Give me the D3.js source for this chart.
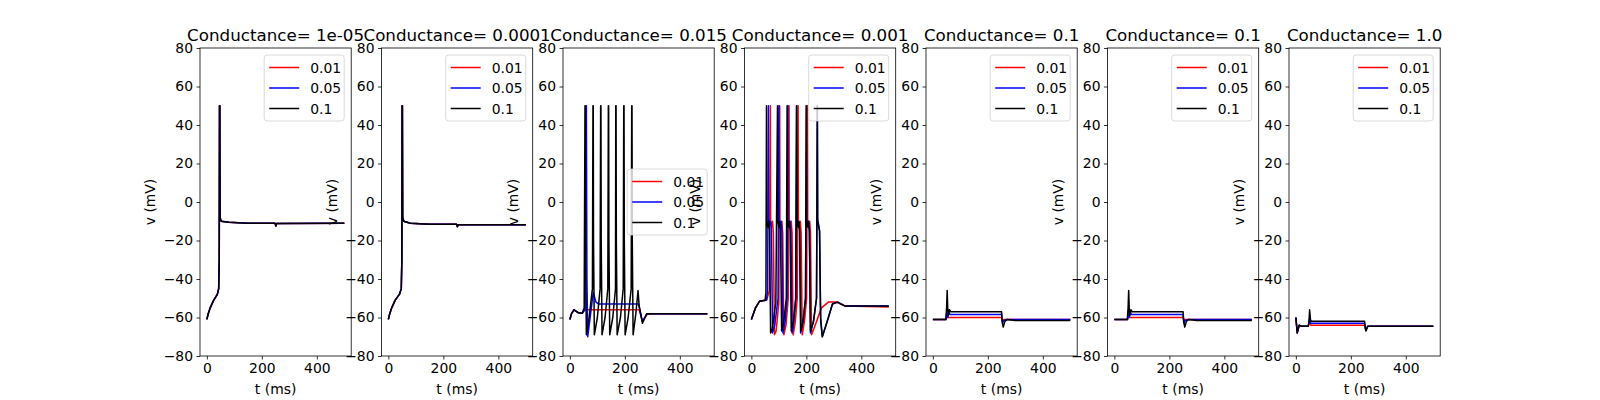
<!DOCTYPE html>
<html><head><meta charset="utf-8">
<script src="https://cdn.jsdelivr.net/npm/d3@7"></script>
<style>body{margin:0;background:#fff}svg text{font-family:"DejaVu Sans",sans-serif}</style>
</head><body><svg id="c" width="1600" height="400"></svg>
<script>
/* Conductance sweep: 7 panels, 3 traces each */
var titles = ['Conductance= 1e-05', 'Conductance= 0.0001', 'Conductance= 0.015', 'Conductance= 0.001',
              'Conductance= 0.1', 'Conductance= 0.1', 'Conductance= 1.0'];
var seriesLabels = ['0.01', '0.05', '0.1'];
var seriesColors = ['red', 'blue', 'black'];
var legendPos = ['ur', 'ur', 'cr', 'ur', 'ur', 'ur', 'ur'];
var xTicks = [0, 200, 400];
var yTicks = [-80, -60, -40, -20, 0, 20, 40, 60, 80];

var p1 = [[0,-61],[5,-58],[12,-55],[25,-51],[38,-48],[43,-45],[45,-30],[46,50],[47,50],[48,-8],[52,-10],[80,-10.5],[150,-11],[248,-11],[251,-12.5],[254,-11.2],[500,-11]];
var p2 = [[0,-61],[5,-58],[12,-55],[25,-51],[40,-48],[47,-45],[49,-30],[50,50],[51,50],[52,-8],[56,-10],[80,-11],[150,-11.5],[248,-11.5],[251,-12.8],[254,-11.8],[500,-11.8]];

var p3red = [[0,-61],[6,-58],[15,-56],[30,-57.5],[45,-57.8],[52,-56],[60,-56],[150,-56],[252,-56],[264,-62],[280,-58.5],[300,-58],[500,-58]];
var p3blue = [[0,-61],[6,-58],[15,-56],[30,-57.5],[45,-57.8],[55,-56],[59,50],[60,50],[62,-40],[65,-70],[72,-62],[85,-47],[95,-52],[105,-53],[250,-53],[264,-62],[280,-58],[300,-58],[500,-58]];
var p3black = [[0,-61],[6,-58],[15,-56],[30,-57.5],[45,-57.8],[52,-55],[55,50],[56,50],[57,-20],[60,-69],[70,-60],[82,-45],[84,50],[85,50],[86,-20],[89,-69],[100,-60],[110,-45],[112,50],[113,50],[114,-20],[117,-69],[128,-60],[138,-45],[140,50],[141,50],[142,-20],[145,-69],[156,-60],[166,-45],[167,50],[168,50],[169,-20],[172,-69],[184,-60],[194,-45],[196,50],[197,50],[198,-20],[201,-69],[212,-60],[223,-45],[225,50],[226,50],[227,-20],[230,-69],[240,-58],[248,-46],[252,-54],[264,-63],[280,-58],[300,-58],[500,-58]];

var p4red = [[0,-61],[15,-55],[30,-51.5],[55,-51],[66,-46],[69,50],[70,-10],[74,-13],[77,-10],[80,-16],[84,-69],[90,-67],[100,-52],[103,50],[104,-10],[108,-13],[111,-10],[114,-16],[118,-69],[126,-64],[134,-50],[137,50],[138,-10],[142,-13],[145,-10],[148,-16],[152,-69],[160,-62],[167,-50],[170,50],[171,-10],[175,-13],[178,-10],[181,-16],[185,-69],[193,-62],[201,-50],[204,50],[205,-10],[209,-13],[212,-10],[215,-16],[219,-69],[232,-64],[255,-55],[280,-52],[310,-52],[340,-54],[500,-54.5]];
var p4blue = [[0,-61],[15,-55],[30,-51.5],[55,-51],[59,-46],[62,50],[63,-9],[67,-12],[70,-10],[73,-15],[77,-68],[85,-64],[97,-50],[100,50],[101,-9],[105,-12],[108,-10],[111,-15],[115,-68],[123,-62],[130,-50],[133,50],[134,-9],[138,-12],[141,-10],[144,-15],[148,-68],[155,-62],[161,-50],[164,50],[165,-9],[169,-12],[172,-10],[175,-15],[179,-68],[188,-62],[197,-50],[200,50],[201,-9],[205,-12],[208,-10],[211,-15],[215,-68],[226,-62],[237,-50],[240,50],[241,-9],[245,-12],[248,-15],[252,-62],[258,-70],[276,-62],[295,-53],[315,-52],[340,-54],[500,-54]];
var p4black = [[0,-61],[15,-55],[30,-51.5],[50,-51],[53,-47],[55,50],[56,-10],[60,-13],[63,-10],[66,-15],[70,-68],[76,-66],[89,-52],[95,50],[96,-10],[100,-13],[103,-10],[106,-15],[110,-67],[118,-62],[127,-50],[130,50],[131,-10],[135,-13],[138,-10],[141,-15],[145,-67],[153,-62],[162,-50],[165,50],[166,-10],[170,-13],[173,-10],[176,-15],[180,-67],[188,-62],[197,-50],[200,50],[201,-10],[205,-13],[208,-10],[211,-15],[215,-67],[226,-62],[237,-50],[240,50],[241,-10],[245,-13],[248,-15],[252,-60],[258,-70],[276,-62],[295,-53],[312,-52],[340,-54],[500,-54]];

var p5red = [[0,-61],[48,-61],[52,-59],[56,-60],[250,-60],[253,-61.5],[258,-61],[500,-61]];
var p5blue = [[0,-61],[48,-61],[51,-57],[54,-60],[58,-57],[62,-58.5],[250,-58.5],[253,-63],[258,-61.5],[270,-61],[500,-61]];
var p5black = [[0,-61],[47,-61],[50,-55],[52,-46],[54,-55],[56,-59],[60,-56],[65,-57],[250,-57],[252,-62],[256,-65],[262,-62],[270,-61],[300,-61.5],[500,-61.5]];

var p7red = [[0,-60],[5,-68],[12,-64],[20,-64.5],[45,-64.5],[50,-63],[55,-64],[250,-64],[254,-66],[262,-64.5],[500,-64.5]];
var p7blue = [[0,-60],[5,-68],[12,-64],[20,-64.5],[45,-64.5],[50,-60],[53,-63],[250,-63],[254,-66.5],[262,-64.5],[500,-64.5]];
var p7black = [[0,-60],[5,-68],[12,-64],[20,-64.5],[45,-64.5],[48,-62],[50,-56],[53,-61],[56,-62],[250,-62],[252,-65],[255,-67],[262,-64.5],[500,-64.5]];

var panels = [
  [p1, p1, p1],
  [p2, p2, p2],
  [p3red, p3blue, p3black],
  [p4red, p4blue, p4black],
  [p5red, p5blue, p5black],
  [p5red, p5blue, p5black],
  [p7red, p7blue, p7black]
];

var svg = d3.select('#c');
var plotLeft = 200, plotTop = 48, plotBottom = 356;
var w = 151.2, gap = 181.5;
var h = plotBottom - plotTop;

var x = d3.scaleLinear().domain([-25, 525]).range([0, w]);
var y = d3.scaleLinear().domain([-80, 80]).range([h, 0]);
var line = d3.line().x(function(d) { return x(d[0]); }).y(function(d) { return y(d[1]); });
var fmt = function(v) { return String(v).replace('-', '\u2212'); };

panels.forEach(function(traces, i) {
    var g = svg.append('g').attr('transform', 'translate(' + (plotLeft + i * gap) + ',' + plotTop + ')');

    traces.forEach(function(t, k) {
        g.append('path').attr('d', line(t)).attr('fill', 'none')
            .attr('stroke', seriesColors[k]).attr('stroke-width', 1.5)
            .attr('stroke-linejoin', 'round');
    });

    g.append('rect').attr('width', w).attr('height', h)
        .attr('fill', 'none').attr('stroke', 'black').attr('stroke-width', 0.8);

    var xa = g.append('g').attr('transform', 'translate(0,' + h + ')')
        .call(d3.axisBottom(x).tickValues(xTicks).tickSize(3.5).tickPadding(3.5).tickFormat(fmt));
    var ya = g.append('g').call(d3.axisLeft(y).tickValues(yTicks).tickSize(3.5).tickPadding(3.5).tickFormat(fmt));
    [xa, ya].forEach(function(a) {
        a.select('.domain').remove();
        a.selectAll('line').attr('stroke', 'black').attr('stroke-width', 0.8);
        a.selectAll('text').attr('font-size', '13.9px').attr('fill', 'black')
            .style('font-family', '"DejaVu Sans", sans-serif');
    });

    g.append('text').attr('x', w / 2).attr('y', -7).attr('text-anchor', 'middle')
        .attr('font-size', '16.7px').text(titles[i]);
    g.append('text').attr('x', w / 2).attr('y', h + 38).attr('text-anchor', 'middle')
        .attr('font-size', '13.9px').text('t (ms)');
    g.append('text').attr('transform', 'translate(-45,' + (h / 2) + ') rotate(-90)')
        .attr('text-anchor', 'middle').attr('font-size', '13.9px').text('v (mV)');

    // Legend
    var lw = 80, lh = 66;
    var lx = w - lw - 7;
    var ly = legendPos[i] === 'ur' ? 7 : (h - lh) / 2;
    var lg = g.append('g').attr('transform', 'translate(' + lx + ',' + ly + ')');
    lg.append('rect').attr('width', lw).attr('height', lh).attr('rx', 3)
        .attr('fill', 'white').attr('fill-opacity', 0.8).attr('stroke', '#d0d0d0').attr('stroke-width', 0.8);
    seriesLabels.forEach(function(s, k) {
        var yy = 12.5 + k * 20.5;
        lg.append('line').attr('x1', 5).attr('x2', 35).attr('y1', yy).attr('y2', yy)
            .attr('stroke', seriesColors[k]).attr('stroke-width', 1.5);
        lg.append('text').attr('x', 46).attr('y', yy + 5).attr('font-size', '13.9px').text(s);
    });
});
</script></body></html>
